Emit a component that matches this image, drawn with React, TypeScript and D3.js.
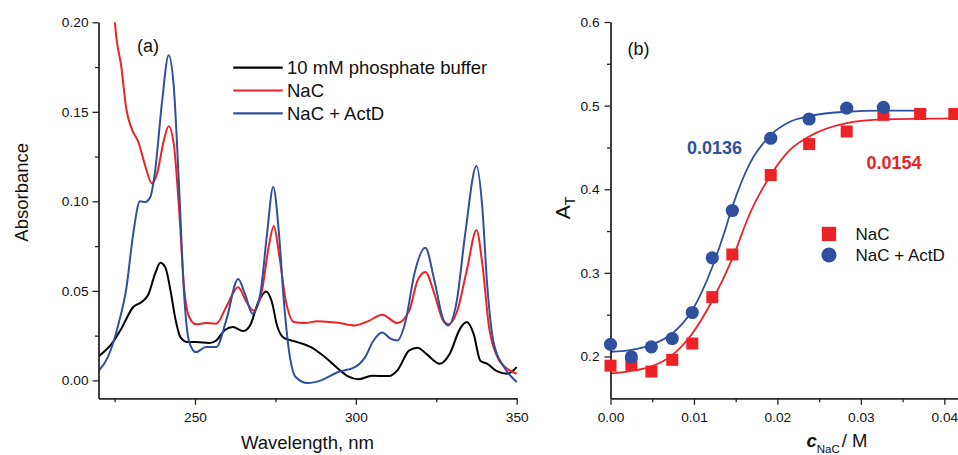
import React, { useRef, useEffect } from 'react';
import * as d3 from 'd3';

const RED = '#ec2227';
const BLUE = '#2f4f9f';
const FONT = 'Liberation Sans, Arial, Helvetica, sans-serif';

// ---- panel (a): absorption spectra, [wavelength nm, absorbance] ----
const bufferSpectrum: [number, number][] = [
    [220, 0.0134], [224.5, 0.0214], [227.1, 0.0289], [230.8, 0.041], [233.4, 0.0438],
    [235.5, 0.048], [237.6, 0.0596], [239.2, 0.0657], [240.8, 0.063], [242.4, 0.05],
    [244, 0.0335], [245.5, 0.024], [247.6, 0.0214], [250.3, 0.0214], [254.5, 0.0209],
    [256.6, 0.0223], [259.2, 0.028], [261.8, 0.0298], [265, 0.0276], [267.1, 0.0307],
    [269.7, 0.0438], [272.1, 0.0497], [273.9, 0.0438], [275.5, 0.0307], [277.6, 0.0238],
    [281.8, 0.0214], [286, 0.0186], [289.7, 0.014], [294.5, 0.0065], [297.6, 0.0022],
    [300.8, 0.0006], [305, 0.0026], [310.3, 0.0024], [312.9, 0.0056], [316.6, 0.0168],
    [319.2, 0.0183], [322.1, 0.0145], [326.1, 0.0093], [329.2, 0.0149], [332.4, 0.0289],
    [334.5, 0.0326], [336.6, 0.026], [338.7, 0.011], [340.8, 0.0093], [344, 0.005],
    [347.1, 0.0037], [350, 0.0074],
];

const nacSpectrum: [number, number][] = [
    [224.3, 0.225], [225.1, 0.2], [227.1, 0.175], [228.7, 0.151], [230.3, 0.1406],
    [232.4, 0.133], [234.5, 0.12], [236.6, 0.11], [238.2, 0.1155], [240.3, 0.134],
    [241.8, 0.142], [243.4, 0.132], [245, 0.097], [246.6, 0.052], [248.2, 0.0354],
    [250.3, 0.0313], [253.4, 0.032], [256.6, 0.0317], [259.7, 0.041], [263.4, 0.052],
    [266, 0.0438], [268.2, 0.039], [270.8, 0.05], [272.9, 0.0745], [274.5, 0.0862],
    [276.1, 0.0708], [278.2, 0.0447], [280.8, 0.0326], [284, 0.032], [288.2, 0.0331],
    [294.5, 0.0322], [299.7, 0.0307], [303.9, 0.0331], [308.2, 0.0367], [312.9, 0.032],
    [316.6, 0.039], [319.2, 0.0559], [321.6, 0.0605], [324.4, 0.0484], [327.1, 0.0335],
    [328.7, 0.0313], [331.4, 0.0382], [334.5, 0.0615], [337.5, 0.0838], [339.3, 0.0652],
    [341.4, 0.0298], [344, 0.013], [347.1, 0.0065], [350, 0.0037],
];

const actdSpectrum: [number, number][] = [
    [220, 0.0052], [222.9, 0.013], [226.1, 0.0307], [228.7, 0.052], [230.8, 0.082],
    [232.9, 0.1], [234.5, 0.0996], [236.1, 0.1024], [237.6, 0.117], [239.7, 0.1546],
    [241.8, 0.1816], [243.4, 0.164], [245, 0.11], [246.6, 0.0484], [248.2, 0.0214],
    [250.3, 0.0158], [253.4, 0.0186], [256.6, 0.0186], [259.7, 0.0335], [263.4, 0.0566],
    [265.5, 0.0484], [267.9, 0.0372], [270.3, 0.0484], [272.4, 0.082], [274.3, 0.108],
    [276.1, 0.082], [277.6, 0.0447], [279.2, 0.0168], [281.3, 0.0019], [285, -0.0015],
    [289.2, 0.0], [294.5, 0.0047], [299.7, 0.0074], [302.9, 0.013], [305.5, 0.0223],
    [308.2, 0.0268], [310.8, 0.0233], [312.9, 0.0223], [315.5, 0.0335], [318.2, 0.0596],
    [321.6, 0.0741], [324.4, 0.0559], [327.1, 0.0344], [328.7, 0.0307], [331.4, 0.0447],
    [334, 0.082], [337.5, 0.1197], [339.3, 0.0968], [340.8, 0.054], [342.9, 0.0205],
    [346.1, 0.0074], [350, -0.0009],
];

const spectraNames = ['10 mM phosphate buffer', 'NaC', 'NaC + ActD'];
const spectraColors = ['#000000', RED, BLUE];
const wlMajorTicks = [250, 300, 350];
const wlMinorTicks = [225, 275, 325];
const absMajorTicks = [0, 0.05, 0.1, 0.15, 0.2];
const absMinorTicks = [0.025, 0.075, 0.125, 0.175];

// ---- panel (b): titration, c(NaC) in M vs A_T ----
const concNaC = [0, 0.0025, 0.0049, 0.0074, 0.0098, 0.0122, 0.0146, 0.0192, 0.0238, 0.0283, 0.0327, 0.0371, 0.0412];
const atNaC = [0.189, 0.19, 0.182, 0.196, 0.2155, 0.271, 0.322, 0.417, 0.454, 0.469, 0.489, 0.49, 0.49];
const concActD = [0, 0.0025, 0.0049, 0.0074, 0.0098, 0.0122, 0.0146, 0.0192, 0.0238, 0.0283, 0.0327];
const atActD = [0.2144, 0.1995, 0.2115, 0.2215, 0.2526, 0.318, 0.3746, 0.461, 0.484, 0.497, 0.498];

// fitted curves
const fitConcNaC = [0, 0.0024, 0.005, 0.0074, 0.0098, 0.0122, 0.0146, 0.0167, 0.0192, 0.0215, 0.0238, 0.0283, 0.0327, 0.0416];
const fitAtNaC = [0.1797, 0.1825, 0.1884, 0.2016, 0.2275, 0.267, 0.317, 0.371, 0.417, 0.447, 0.463, 0.479, 0.4835, 0.4847];
const fitConcActD = [0, 0.0024, 0.005, 0.0074, 0.0098, 0.0122, 0.0136, 0.0146, 0.0167, 0.0192, 0.0215, 0.0238, 0.0283, 0.0327, 0.0379];
const fitAtActD = [0.2056, 0.2076, 0.2144, 0.2275, 0.2554, 0.307, 0.347, 0.379, 0.431, 0.4648, 0.4807, 0.4875, 0.4927, 0.4939, 0.494];

const fitLabels = ['0.0154', '0.0136'];
const concMajorTicks = [0, 0.01, 0.02, 0.03, 0.04];
const concMinorTicks = [0.005, 0.015, 0.025, 0.035];
const atMajorTicks = [0.2, 0.3, 0.4, 0.5, 0.6];
const atMinorTicks = [0.25, 0.35, 0.45, 0.55];

const WIDTH = 958;
const HEIGHT = 455;

export default function App() {
    const svgRef = useRef<SVGSVGElement>(null);

    useEffect(() => {
        const svg = d3.select(svgRef.current);
        svg.selectAll('*').remove();

        const styleAxis = (g: any) => {
            g.select('.domain').attr('stroke', '#222').attr('stroke-width', 1.3);
            g.selectAll('.tick line').attr('stroke', '#222').attr('stroke-width', 1.3);
            g.selectAll('.tick text')
                .attr('font-size', 13.7)
                .attr('font-family', FONT)
                .attr('fill', '#111');
        };

        // ================= panel (a) =================
        const xa = d3.scaleLinear().domain([220, 350]).range([98.5, 516.7]);
        const ya = d3.scaleLinear().domain([-0.01, 0.2]).range([398.3, 22.3]);

        svg.append('clipPath').attr('id', 'clip-a')
            .append('rect')
            .attr('x', xa(220)).attr('y', ya(0.2))
            .attr('width', xa(350) - xa(220) + 2).attr('height', ya(-0.01) - ya(0.2));

        const lineA = d3.line<[number, number]>()
            .x(d => xa(d[0]))
            .y(d => ya(d[1]))
            .curve(d3.curveMonotoneX);

        [bufferSpectrum, nacSpectrum, actdSpectrum].forEach((s, i) => {
            svg.append('path')
                .datum(s)
                .attr('clip-path', 'url(#clip-a)')
                .attr('fill', 'none')
                .attr('stroke', spectraColors[i])
                .attr('stroke-width', 2)
                .attr('stroke-linejoin', 'round')
                .attr('d', lineA);
        });

        // axes (a)
        svg.append('g')
            .attr('transform', `translate(0,${ya(-0.01)})`)
            .call(d3.axisBottom(xa).tickValues(wlMinorTicks).tickSize(4).tickFormat(() => '').tickSizeOuter(0))
            .call(styleAxis);
        svg.append('g')
            .attr('transform', `translate(0,${ya(-0.01)})`)
            .call(d3.axisBottom(xa).tickValues(wlMajorTicks).tickSize(6.5).tickPadding(7).tickFormat(d => `${d}`).tickSizeOuter(0))
            .call(styleAxis);
        svg.append('g')
            .attr('transform', `translate(${xa(220)},0)`)
            .call(d3.axisLeft(ya).tickValues(absMinorTicks).tickSize(3.5).tickFormat(() => '').tickSizeOuter(0))
            .call(styleAxis);
        svg.append('g')
            .attr('transform', `translate(${xa(220)},0)`)
            .call(d3.axisLeft(ya).tickValues(absMajorTicks).tickSize(6).tickPadding(4).tickFormat(d3.format('.2f')).tickSizeOuter(0))
            .call(styleAxis);

        svg.append('text')
            .attr('transform', `translate(28,${(ya(0.2) + ya(-0.01)) / 2 - 18}) rotate(-90)`)
            .attr('text-anchor', 'middle')
            .attr('font-size', 18.5)
            .attr('font-family', FONT)
            .attr('fill', '#111')
            .text('Absorbance');

        svg.append('text')
            .attr('x', 307.5)
            .attr('y', 448.5)
            .attr('text-anchor', 'middle')
            .attr('font-size', 18.5)
            .attr('font-family', FONT)
            .attr('fill', '#111')
            .text('Wavelength, nm');

        svg.append('text')
            .attr('x', 137)
            .attr('y', 51.5)
            .attr('font-size', 18)
            .attr('font-family', FONT)
            .attr('fill', '#111')
            .text('(a)');

        // legend (a)
        spectraNames.forEach((name, i) => {
            const ly = 67.7 + i * 22.8;
            svg.append('line')
                .attr('x1', 233.3).attr('x2', 282.7)
                .attr('y1', ly).attr('y2', ly)
                .attr('stroke', spectraColors[i])
                .attr('stroke-width', 2.2);
            svg.append('text')
                .attr('x', 287)
                .attr('y', ly + 6.5)
                .attr('font-size', 18.5)
                .attr('font-family', FONT)
                .attr('fill', '#111')
                .text(name);
        });

        // ================= panel (b) =================
        const xb = d3.scaleLinear().domain([0, 0.04164]).range([610.5, 958]);
        const yb = d3.scaleLinear().domain([0.15, 0.6]).range([398.3, 22]);

        const lineB = d3.line<[number, number]>()
            .x(d => xb(d[0]))
            .y(d => yb(d[1]))
            .curve(d3.curveMonotoneX);

        const fitNaC = fitConcNaC.map((c, i) => [c, fitAtNaC[i]] as [number, number]);
        const fitActD = fitConcActD.map((c, i) => [c, fitAtActD[i]] as [number, number]);

        svg.append('path')
            .datum(fitNaC)
            .attr('fill', 'none')
            .attr('stroke', RED)
            .attr('stroke-width', 1.8)
            .attr('d', lineB);
        svg.append('path')
            .datum(fitActD)
            .attr('fill', 'none')
            .attr('stroke', BLUE)
            .attr('stroke-width', 1.8)
            .attr('d', lineB);

        // axes (b)
        svg.append('g')
            .attr('transform', `translate(0,${yb(0.15)})`)
            .call(d3.axisBottom(xb).tickValues(concMinorTicks).tickSize(4).tickFormat(() => '').tickSizeOuter(0))
            .call(styleAxis);
        svg.append('g')
            .attr('transform', `translate(0,${yb(0.15)})`)
            .call(d3.axisBottom(xb).tickValues(concMajorTicks).tickSize(6.5).tickPadding(7).tickFormat(d3.format('.2f')).tickSizeOuter(0))
            .call(styleAxis);
        svg.append('g')
            .attr('transform', `translate(${xb(0)},0)`)
            .call(d3.axisLeft(yb).tickValues(atMinorTicks).tickSize(3.5).tickFormat(() => '').tickSizeOuter(0))
            .call(styleAxis);
        svg.append('g')
            .attr('transform', `translate(${xb(0)},0)`)
            .call(d3.axisLeft(yb).tickValues(atMajorTicks).tickSize(6).tickPadding(5).tickFormat(d3.format('.1f')).tickSizeOuter(0))
            .call(styleAxis);

        // data markers
        svg.append('g')
            .selectAll('rect')
            .data(concNaC.map((c, i) => [c, atNaC[i]]))
            .join('rect')
            .attr('x', d => xb(d[0]) - 6)
            .attr('y', d => yb(d[1]) - 6)
            .attr('width', 12)
            .attr('height', 12)
            .attr('fill', RED);
        svg.append('g')
            .selectAll('circle')
            .data(concActD.map((c, i) => [c, atActD[i]]))
            .join('circle')
            .attr('cx', d => xb(d[0]))
            .attr('cy', d => yb(d[1]))
            .attr('r', 6.6)
            .attr('fill', BLUE);

        // fit labels
        svg.append('text')
            .attr('x', 866.5).attr('y', 168.5)
            .attr('font-size', 18).attr('font-weight', 'bold')
            .attr('font-family', FONT).attr('fill', RED)
            .text(fitLabels[0]);
        svg.append('text')
            .attr('x', 687).attr('y', 153.5)
            .attr('font-size', 18).attr('font-weight', 'bold')
            .attr('font-family', FONT).attr('fill', BLUE)
            .text(fitLabels[1]);

        svg.append('text')
            .attr('x', 627.5)
            .attr('y', 55)
            .attr('font-size', 18)
            .attr('font-family', FONT)
            .attr('fill', '#111')
            .text('(b)');

        // A_T label
        const at = svg.append('text')
            .attr('transform', `translate(570,208) rotate(-90)`)
            .attr('text-anchor', 'middle')
            .attr('font-size', 21)
            .attr('font-family', FONT)
            .attr('fill', '#111');
        at.append('tspan').text('A');
        at.append('tspan').attr('font-size', 14).attr('dy', 5).text('T');

        // c_NaC / M label
        const cl = svg.append('text')
            .attr('x', 806.5)
            .attr('y', 446.7)
            .attr('font-size', 18.5)
            .attr('font-family', FONT)
            .attr('fill', '#111');
        cl.append('tspan').attr('font-style', 'italic').attr('font-weight', 'bold').text('c');
        cl.append('tspan').attr('font-size', 11.5).attr('dy', 6).text('NaC');
        cl.append('tspan').attr('dy', -6).attr('dx', 2).text('/ M');

        // legend (b)
        svg.append('rect')
            .attr('x', 821.8).attr('y', 226.8)
            .attr('width', 14.3).attr('height', 14.3)
            .attr('fill', RED);
        svg.append('circle')
            .attr('cx', 829).attr('cy', 255)
            .attr('r', 7.6)
            .attr('fill', BLUE);
        ['NaC', 'NaC + ActD'].forEach((name, i) => {
            svg.append('text')
                .attr('x', 855.5)
                .attr('y', 239.5 + i * 21)
                .attr('font-size', 17)
                .attr('font-family', FONT)
                .attr('fill', '#111')
                .text(name);
        });
    }, []);

    return (
        <svg
            ref={svgRef}
            width={WIDTH}
            height={HEIGHT}
            viewBox={`0 0 ${WIDTH} ${HEIGHT}`}
            style={{ position: 'absolute', left: 0, top: 0, background: '#fff', display: 'block' }}
        />
    );
}
